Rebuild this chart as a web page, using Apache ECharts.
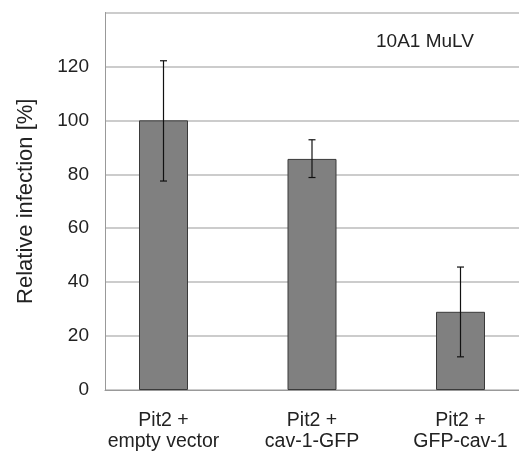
<!DOCTYPE html>
<html>
<head>
<meta charset="utf-8">
<script src="https://cdn.jsdelivr.net/npm/echarts@6/dist/echarts.min.js"></script>
<style>
  html, body { margin: 0; padding: 0; background: #fff; }
  #chart { width: 519px; height: 454px; }
</style>
</head>
<body>
<div id="chart"></div>
<script>
// data
var categories = ['Pit2 +\nempty vector', 'Pit2 +\ncav-1-GFP', 'Pit2 +\nGFP-cav-1'];
var infection = [100, 85.7, 29];
var errLow = [77.5, 78.8, 12.3];
var errHigh = [122.1, 92.8, 45.6];
var yTicks = [0, 20, 40, 60, 80, 100, 120, 140];

var font = 'Liberation Sans, Arial, sans-serif';
var chart = echarts.init(document.getElementById('chart'));

var option = {
  animation: false,
  backgroundColor: '#fff',
  title: {
    text: '10A1 MuLV',
    left: 371,
    top: 27,
    textStyle: { fontFamily: font, fontSize: 19, fontWeight: 'normal', color: '#222' }
  },
  grid: [
    // frame, gridlines and y labels
    { left: 105, right: 0, top: 12.5, bottom: 64, outerBoundsMode: 'none' },
    // bars, a bit wider (runs off the right edge) so the categories sit where the figure has them
    { left: 89.25, width: 445.5, top: 12.5, bottom: 64, outerBoundsMode: 'none' }
  ],
  xAxis: [
    {
      gridIndex: 0, type: 'category', data: categories,
      axisLine: { lineStyle: { color: '#999' } },
      axisTick: { show: false }, axisLabel: { show: false }
    },
    {
      gridIndex: 1, type: 'category', data: categories,
      axisLine: { show: false }, axisTick: { show: false },
      axisLabel: {
        margin: 20, fontFamily: font, fontSize: 19.5, lineHeight: 21, color: '#222', interval: 0
      }
    }
  ],
  yAxis: [
    {
      gridIndex: 0, type: 'value', min: yTicks[0], max: yTicks[yTicks.length - 1], interval: 20,
      name: 'Relative infection [%]', nameLocation: 'middle', nameGap: 68,
      nameTextStyle: { fontFamily: font, fontSize: 22, color: '#222' },
      axisLine: { show: true, lineStyle: { color: '#999' } },
      axisTick: { show: false },
      axisLabel: { margin: 16, fontFamily: font, fontSize: 19, color: '#222', showMaxLabel: false },
      splitLine: { lineStyle: { color: '#bbb', width: 1.5 } }
    },
    {
      gridIndex: 1, type: 'value', min: yTicks[0], max: yTicks[yTicks.length - 1], interval: 20,
      show: false
    }
  ],
  series: [
    {
      type: 'bar', xAxisIndex: 1, yAxisIndex: 1,
      data: infection, barWidth: 49,
      itemStyle: { color: '#808080', borderColor: '#3a3a3a', borderWidth: 1 }
    },
    {
      type: 'custom', xAxisIndex: 1, yAxisIndex: 1, z: 5,
      data: categories.map(function (c, i) { return [i, errLow[i], errHigh[i]]; }),
      renderItem: function (params, api) {
        var lo = api.coord([api.value(0), api.value(1)]);
        var hi = api.coord([api.value(0), api.value(2)]);
        var cap = 3.5;
        var st = { stroke: '#111', lineWidth: 1.2 };
        return {
          type: 'group',
          children: [
            { type: 'line', shape: { x1: lo[0], y1: lo[1], x2: hi[0], y2: hi[1] }, style: st },
            { type: 'line', shape: { x1: hi[0] - cap, y1: hi[1], x2: hi[0] + cap, y2: hi[1] }, style: st },
            { type: 'line', shape: { x1: lo[0] - cap, y1: lo[1], x2: lo[0] + cap, y2: lo[1] }, style: st }
          ]
        };
      }
    }
  ]
};

chart.setOption(option);
</script>
</body>
</html>
